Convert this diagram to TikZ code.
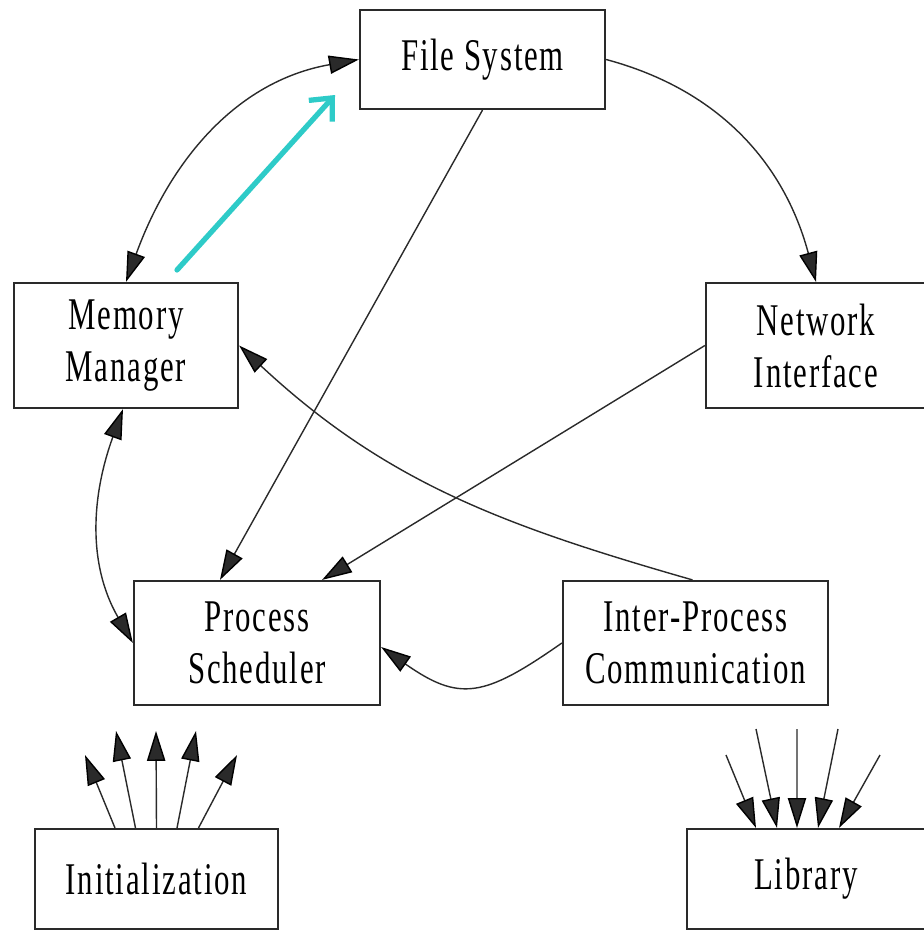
\documentclass[tikz,border=0pt]{standalone}
\usepackage{fontspec}
\setmainfont{Liberation Serif}[FakeStretch=0.68,LetterSpace=4]
\usetikzlibrary{arrows.meta}
\definecolor{ink}{HTML}{2A2A2A}
\definecolor{hilite}{HTML}{2ECBC8}

\begin{document}
\begin{tikzpicture}[x=0.01cm,y=-0.01cm,
    >={Triangle[length=8.5pt,width=5.2pt,color=black]},
    box/.style={shape=rectangle,draw=ink,line width=0.6pt,align=center,inner sep=0pt,font=\fontsize{12.9}{14.8}\selectfont},
    link/.style={ink,line width=0.4pt},
    hl/.style={hilite,line width=1.5pt,line cap=round,-{Straight Barb[length=5pt,width=9pt]}}]
    \useasboundingbox (0,0) rectangle (924,930);
    \clip (0,0) rectangle (924,930);

    \node[box, minimum width=2.45cm, minimum height=0.99cm] (FS) at (482.5,59.5) {File System};
    \node[box, minimum width=2.24cm, minimum height=1.25cm] (MM) at (126,345.5) {Memory\\Manager};
    \node[box, minimum width=2.20cm, minimum height=1.25cm] (NI) at (816,345.5) {Network\\Interface};
    \node[box, minimum width=2.46cm, minimum height=1.24cm] (PS) at (257,643) {Process\\Scheduler};
    \node[box, minimum width=2.65cm, minimum height=1.24cm] (IPC) at (695.5,643) {Inter-Process\\Communication};
    \node[box, minimum width=2.43cm, minimum height=1.00cm] (Init) at (156.5,879) {Initialization};
    \node[box, minimum width=2.38cm, minimum height=1.00cm] (Lib) at (806,879) {Library};

    \coordinate (hlA) at (177,270);
    \coordinate (hlB) at (335,95);
    \coordinate (i1) at (85,755);
    \coordinate (i2) at (116,731);
    \coordinate (i3) at (156,731);
    \coordinate (i4) at (196,731);
    \coordinate (i5) at (237,755);
    \coordinate (l1) at (726,755);
    \coordinate (l2) at (756,729);
    \coordinate (l3) at (797,729);
    \coordinate (l4) at (838,729);
    \coordinate (l5) at (880,755);

    \path [<->, link](MM.north) edge[out=70,in=190] (FS.west);
    \path [->, link](FS.east) edge[out=-15,in=105] (NI.north);
    \path [->, link](FS.south) edge ([xshift=-0.37cm]PS.north);
    \path [->, link](NI.west) edge ([xshift=0.65cm]PS.north);
    \path [->, link]([xshift=-0.03cm]IPC.north) edge[out=164,in=-43] (MM.east);
    \path [<->, link]([xshift=-0.03cm]MM.south) edge[out=-110,in=120] (PS.west);
    \path [->, link](IPC.west) edge[out=215,in=-35,looseness=1.35] ([yshift=-0.04cm]PS.east);
    \path [hl](hlA) edge (hlB);

    \path [->, link]([xshift=-0.415cm]Init.north) edge (i1);
    \path [->, link]([xshift=-0.21cm]Init.north) edge (i2);
    \path [->, link](Init.north) edge (i3);
    \path [->, link]([xshift=0.205cm]Init.north) edge (i4);
    \path [->, link]([xshift=0.42cm]Init.north) edge (i5);

    \path [->, link](l1) edge ([xshift=-0.50cm]Lib.north);
    \path [->, link](l2) edge ([xshift=-0.29cm]Lib.north);
    \path [->, link](l3) edge ([xshift=-0.09cm]Lib.north);
    \path [->, link](l4) edge ([xshift=0.12cm]Lib.north);
    \path [->, link](l5) edge ([xshift=0.33cm]Lib.north);

\end{tikzpicture}
\end{document}
